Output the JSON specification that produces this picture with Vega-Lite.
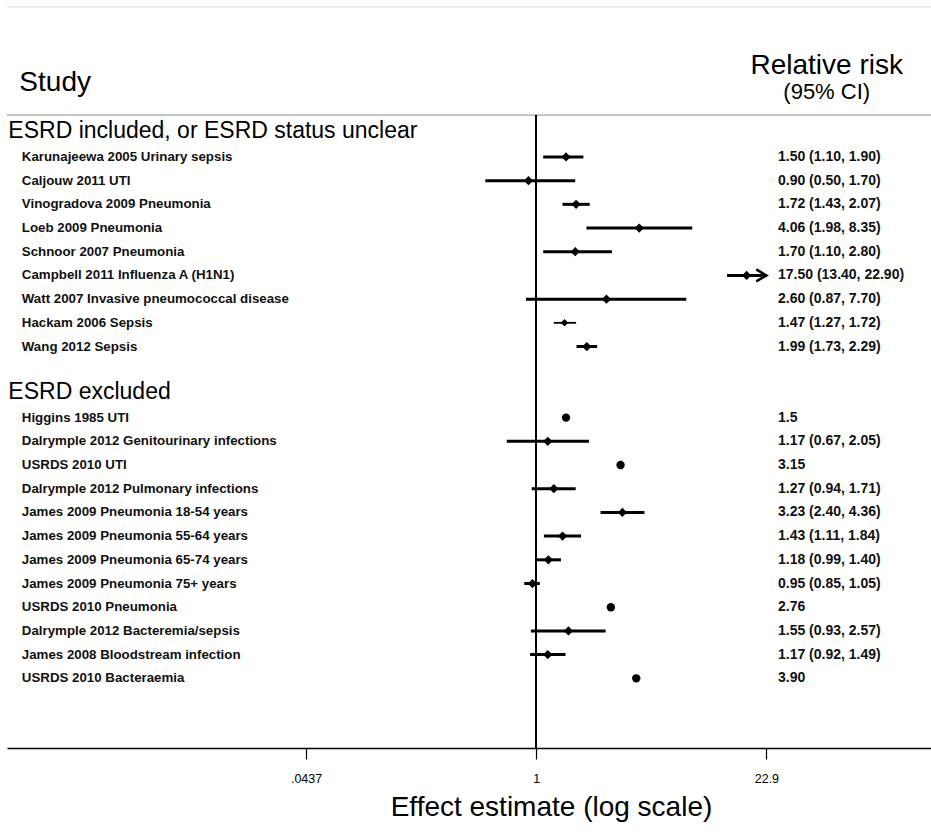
{
  "$schema": "https://vega.github.io/schema/vega-lite/v6.json",
  "autosize": {"type": "none"},
  "width": 924,
  "height": 633,
  "padding": {"left": 7, "top": 115, "right": 0, "bottom": 87},
  "background": "white",
  "config": {
    "font": "Liberation Sans",
    "view": {"stroke": null},
    "text": {"color": "black"},
    "axis": {"grid": false}
  },
  "datasets": {
    "studies": [
      {"study": "Karunajeewa 2005 Urinary sepsis", "rr": 1.50, "lo": 1.10, "hi": 1.90, "ci": "1.50 (1.10, 1.90)"},
      {"study": "Caljouw 2011 UTI", "rr": 0.90, "lo": 0.50, "hi": 1.70, "ci": "0.90 (0.50, 1.70)"},
      {"study": "Vinogradova 2009 Pneumonia", "rr": 1.72, "lo": 1.43, "hi": 2.07, "ci": "1.72 (1.43, 2.07)"},
      {"study": "Loeb 2009 Pneumonia", "rr": 4.06, "lo": 1.98, "hi": 8.35, "ci": "4.06 (1.98, 8.35)"},
      {"study": "Schnoor 2007 Pneumonia", "rr": 1.70, "lo": 1.10, "hi": 2.80, "ci": "1.70 (1.10, 2.80)"},
      {"study": "Campbell 2011 Influenza A (H1N1)", "rr": 17.50, "lo": 13.40, "hi": 22.90, "ci": "17.50 (13.40, 22.90)"},
      {"study": "Watt 2007 Invasive pneumococcal disease", "rr": 2.60, "lo": 0.87, "hi": 7.70, "ci": "2.60 (0.87, 7.70)"},
      {"study": "Hackam 2006 Sepsis", "rr": 1.47, "lo": 1.27, "hi": 1.72, "ci": "1.47 (1.27, 1.72)"},
      {"study": "Wang 2012 Sepsis", "rr": 1.99, "lo": 1.73, "hi": 2.29, "ci": "1.99 (1.73, 2.29)"},
      {"study": "Higgins 1985 UTI", "rr": 1.5, "lo": null, "hi": null, "ci": "1.5"},
      {"study": "Dalrymple 2012 Genitourinary infections", "rr": 1.17, "lo": 0.67, "hi": 2.05, "ci": "1.17 (0.67, 2.05)"},
      {"study": "USRDS 2010 UTI", "rr": 3.15, "lo": null, "hi": null, "ci": "3.15"},
      {"study": "Dalrymple 2012 Pulmonary infections", "rr": 1.27, "lo": 0.94, "hi": 1.71, "ci": "1.27 (0.94, 1.71)"},
      {"study": "James 2009 Pneumonia 18-54 years", "rr": 3.23, "lo": 2.40, "hi": 4.36, "ci": "3.23 (2.40, 4.36)"},
      {"study": "James 2009 Pneumonia 55-64 years", "rr": 1.43, "lo": 1.11, "hi": 1.84, "ci": "1.43 (1.11, 1.84)"},
      {"study": "James 2009 Pneumonia 65-74 years", "rr": 1.18, "lo": 0.99, "hi": 1.40, "ci": "1.18 (0.99, 1.40)"},
      {"study": "James 2009 Pneumonia 75+ years", "rr": 0.95, "lo": 0.85, "hi": 1.05, "ci": "0.95 (0.85, 1.05)"},
      {"study": "USRDS 2010 Pneumonia", "rr": 2.76, "lo": null, "hi": null, "ci": "2.76"},
      {"study": "Dalrymple 2012 Bacteremia/sepsis", "rr": 1.55, "lo": 0.93, "hi": 2.57, "ci": "1.55 (0.93, 2.57)"},
      {"study": "James 2008 Bloodstream infection", "rr": 1.17, "lo": 0.92, "hi": 1.49, "ci": "1.17 (0.92, 1.49)"},
      {"study": "USRDS 2010 Bacteraemia", "rr": 3.90, "lo": null, "hi": null, "ci": "3.90"}
    ],
    "headings": [
      {"heading": "ESRD included, or ESRD status unclear"},
      {"heading": "ESRD excluded"}
    ]
  },
  "data": {"name": "studies"},
  "layer": [
    {
      "mark": {"type": "rule", "color": "#ececec", "strokeWidth": 1, "yOffset": -126},
      "encoding": {
        "y": {
          "datum": "ESRD included, or ESRD status unclear",
          "type": "nominal",
          "scale": {
            "type": "point",
            "domain": [
              "ESRD included, or ESRD status unclear",
              "Karunajeewa 2005 Urinary sepsis",
              "Caljouw 2011 UTI",
              "Vinogradova 2009 Pneumonia",
              "Loeb 2009 Pneumonia",
              "Schnoor 2007 Pneumonia",
              "Campbell 2011 Influenza A (H1N1)",
              "Watt 2007 Invasive pneumococcal disease",
              "Hackam 2006 Sepsis",
              "Wang 2012 Sepsis",
              " ",
              "ESRD excluded",
              "Higgins 1985 UTI",
              "Dalrymple 2012 Genitourinary infections",
              "USRDS 2010 UTI",
              "Dalrymple 2012 Pulmonary infections",
              "James 2009 Pneumonia 18-54 years",
              "James 2009 Pneumonia 55-64 years",
              "James 2009 Pneumonia 65-74 years",
              "James 2009 Pneumonia 75+ years",
              "USRDS 2010 Pneumonia",
              "Dalrymple 2012 Bacteremia/sepsis",
              "James 2008 Bloodstream infection",
              "USRDS 2010 Bacteraemia",
              "  ",
              "   "
            ],
            "padding": 0.855,
            "align": 0.45
          },
          "axis": null
        }
      }
    },
    {
      "mark": {"type": "rule", "color": "#c4c4c4", "strokeWidth": 1.5, "yOffset": -18},
      "encoding": {
        "y": {"datum": "ESRD included, or ESRD status unclear", "type": "nominal"}
      }
    },
    {
      "mark": {"type": "rule", "color": "black", "strokeWidth": 1.3},
      "encoding": {
        "x": {
          "datum": 1,
          "type": "quantitative",
          "scale": {"type": "log", "domain": [0.000748, 214.8], "nice": false},
          "axis": {
            "values": [0.0437, 1, 22.9],
            "labelExpr": "datum.value < 0.5 ? '.0437' : (datum.value < 2 ? '1' : '22.9')",
            "title": "Effect estimate (log scale)",
            "titleFontSize": 28,
            "titleFontWeight": "normal",
            "titleColor": "black",
            "titleX": 544,
            "titleY": 67,
            "titleBaseline": "alphabetic",
            "titleAlign": "center",
            "labelFontSize": 12.5,
            "labelColor": "black",
            "labelPadding": 13,
            "labelFlush": false,
            "domainColor": "black",
            "domainWidth": 1.5,
            "tickColor": "black",
            "tickWidth": 1.2,
            "tickSize": 11
          }
        }
      }
    },
    {
      "transform": [{"filter": "isValid(datum.lo) && datum.study != 'Hackam 2006 Sepsis'"}],
      "mark": {"type": "rule", "color": "black", "strokeWidth": 3},
      "encoding": {
        "x": {"field": "lo", "type": "quantitative"},
        "x2": {"field": "hi"},
        "y": {"field": "study", "type": "nominal"}
      }
    },
    {
      "transform": [{"filter": "datum.study == 'Hackam 2006 Sepsis'"}],
      "mark": {"type": "rule", "color": "black", "strokeWidth": 1.8},
      "encoding": {
        "x": {"field": "lo", "type": "quantitative"},
        "x2": {"field": "hi"},
        "y": {"field": "study", "type": "nominal"}
      }
    },
    {
      "transform": [{"filter": "isValid(datum.lo) && datum.study != 'Hackam 2006 Sepsis'"}],
      "mark": {"type": "point", "shape": "diamond", "filled": true, "color": "black", "opacity": 1, "size": 85},
      "encoding": {
        "x": {"field": "rr", "type": "quantitative"},
        "y": {"field": "study", "type": "nominal"}
      }
    },
    {
      "transform": [{"filter": "datum.study == 'Hackam 2006 Sepsis'"}],
      "mark": {"type": "point", "shape": "diamond", "filled": true, "color": "black", "opacity": 1, "size": 55},
      "encoding": {
        "x": {"field": "rr", "type": "quantitative"},
        "y": {"field": "study", "type": "nominal"}
      }
    },
    {
      "transform": [{"filter": "!isValid(datum.lo)"}],
      "mark": {"type": "point", "shape": "circle", "filled": true, "color": "black", "opacity": 1, "size": 70},
      "encoding": {
        "x": {"field": "rr", "type": "quantitative"},
        "y": {"field": "study", "type": "nominal"}
      }
    },
    {
      "transform": [{"filter": "datum.hi >= 22.9"}],
      "mark": {"type": "point", "shape": "M-1.7,-1L0,0L-1.7,1", "filled": false, "stroke": "black", "strokeWidth": 2.5, "opacity": 1, "size": 144},
      "encoding": {
        "x": {"field": "hi", "type": "quantitative"},
        "y": {"field": "study", "type": "nominal"}
      }
    },
    {
      "mark": {"type": "text", "align": "left", "baseline": "middle", "fontSize": 13.3, "fontWeight": "bold", "color": "#111"},
      "encoding": {
        "x": {"datum": 0.000915, "type": "quantitative"},
        "y": {"field": "study", "type": "nominal"},
        "text": {"field": "study"}
      }
    },
    {
      "mark": {"type": "text", "align": "left", "baseline": "middle", "fontSize": 14, "fontWeight": "bold", "color": "#111"},
      "encoding": {
        "x": {"datum": 26.8, "type": "quantitative"},
        "y": {"field": "study", "type": "nominal"},
        "text": {"field": "ci"}
      }
    },
    {
      "data": {"name": "headings"},
      "mark": {"type": "text", "align": "left", "baseline": "middle", "fontSize": 23, "dy": -2, "color": "black"},
      "encoding": {
        "x": {"datum": 0.000762, "type": "quantitative"},
        "y": {"field": "heading", "type": "nominal"},
        "text": {"field": "heading"}
      }
    },
    {
      "data": {"values": [{"t": "Study"}]},
      "mark": {"type": "text", "align": "left", "baseline": "alphabetic", "fontSize": 28, "dy": -42, "color": "black"},
      "encoding": {
        "x": {"datum": 0.000885, "type": "quantitative"},
        "y": {"datum": "ESRD included, or ESRD status unclear", "type": "nominal"},
        "text": {"field": "t"}
      }
    },
    {
      "data": {"values": [{"t": "Relative risk"}]},
      "mark": {"type": "text", "align": "center", "baseline": "alphabetic", "fontSize": 28, "dy": -59, "color": "black"},
      "encoding": {
        "x": {"datum": 52, "type": "quantitative"},
        "y": {"datum": "ESRD included, or ESRD status unclear", "type": "nominal"},
        "text": {"field": "t"}
      }
    },
    {
      "data": {"values": [{"t": "(95% CI)"}]},
      "mark": {"type": "text", "align": "center", "baseline": "alphabetic", "fontSize": 22, "dy": -34, "color": "black"},
      "encoding": {
        "x": {"datum": 52, "type": "quantitative"},
        "y": {"datum": "ESRD included, or ESRD status unclear", "type": "nominal"},
        "text": {"field": "t"}
      }
    }
  ]
}
